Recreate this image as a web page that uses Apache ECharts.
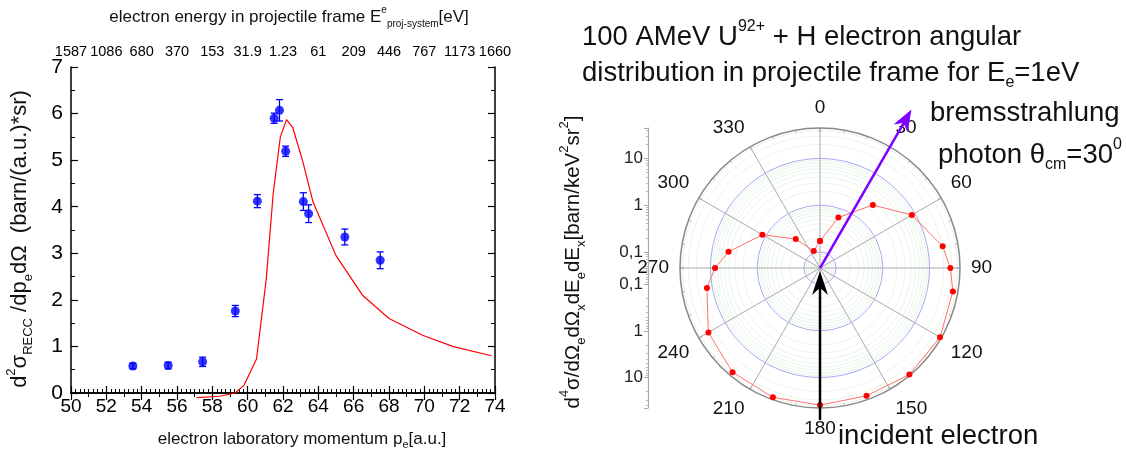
<!DOCTYPE html>
<html>
<head>
<meta charset="utf-8">
<script src="https://cdn.jsdelivr.net/npm/echarts@6.0.0/dist/echarts.min.js"></script>
<style>
  html, body { margin: 0; padding: 0; background: #fff; }
  #main { width: 1126px; height: 455px; }
</style>
</head>
<body>
<div id="main"></div>
<script>
// left panel: measured RECC cross section vs electron lab momentum
const pLab = [53.5, 55.5, 57.45, 59.3, 60.55, 61.5, 61.8, 62.15, 63.15, 63.45, 65.5, 67.5];
const sigma = [0.58, 0.59, 0.67, 1.76, 4.12, 5.9, 6.07, 5.19, 4.11, 3.85, 3.35, 2.85];
const sigmaErr = [0.06, 0.07, 0.1, 0.12, 0.14, 0.11, 0.23, 0.11, 0.19, 0.19, 0.17, 0.18];

// theory curve
const theoryP = [57.1, 58.4, 59.3, 59.8, 60.5, 61.05, 61.45, 61.85, 62.2, 62.55, 63.1, 63.7, 65.0, 66.5, 68.0, 69.9, 71.6, 73.8];
const theoryS = [-0.1, -0.07, 0, 0.17, 0.73, 2.44, 4.3, 5.5, 5.87, 5.7, 5.0, 4.1, 2.95, 2.1, 1.6, 1.24, 1.0, 0.8];

// top axis: electron energy in projectile frame, one per bottom major tick
const topLabels = ['1587', '1086', '680', '370', '153', '31.9', '1.23', '61', '209', '446', '767', '1173', '1660'];

// right panel: angular distribution (polar, log radius)
const angles = [0, 20, 40, 60, 80, 90, 100, 120, 140, 160, 180, 200, 220, 240, 260, 270, 280, 300, 320, 340];
const dist = [0.17, 0.64, 2.6, 8.4, 21, 28, 35, 42, 43, 37, 39, 40, 37, 26, 13, 8.0, 4.4, 1.2, 0.29, 0.11];
const photonAngle = 30;

const FONT = '"Liberation Sans", Arial, sans-serif';
const C = [820, 268];   // polar centre
const R = 140;          // polar radius

const chart = echarts.init(document.getElementById('main'));

function isDecade(v) {
  const l = Math.log10(v);
  return Math.abs(l - Math.round(l)) < 1e-6;
}
function decadeLabel(v) {
  if (!isDecade(v)) return '';
  return String(+v.toPrecision(3)).replace('.', ',');
}

function arrow(x1, y1, x2, y2, color, lw, hl, hw) {
  const len = Math.hypot(x2 - x1, y2 - y1);
  const dx = (x2 - x1) / len, dy = (y2 - y1) / len;
  const nx = -dy, ny = dx;
  const bx = x2 - dx * hl, by = y2 - dy * hl;
  const notchX = x2 - dx * hl * 0.7, notchY = y2 - dy * hl * 0.7;
  return [
    { type: 'line', z: 100, shape: { x1: x1, y1: y1, x2: notchX, y2: notchY },
      style: { stroke: color, lineWidth: lw } },
    { type: 'polygon', z: 100,
      shape: { points: [[x2, y2], [bx + nx * hw, by + ny * hw], [notchX, notchY], [bx - nx * hw, by - ny * hw]] },
      style: { fill: color } }
  ];
}

const rad = photonAngle * Math.PI / 180;
const purpleTip = [C[0] + 183 * Math.sin(rad), C[1] - 183 * Math.cos(rad)];

const richBig = {
  t: { fontSize: 27.5, fontFamily: FONT, fill: '#111', lineHeight: 36 },
  sup: { fontSize: 16, fontFamily: FONT, fill: '#111', lineHeight: 17, verticalAlign: 'top' },
  sub: { fontSize: 16, fontFamily: FONT, fill: '#111', lineHeight: 17, verticalAlign: 'bottom' }
};
const richPolarName = {
  t: { fontSize: 20.5, fontFamily: FONT, fill: '#111', lineHeight: 30 },
  sup: { fontSize: 13, fontFamily: FONT, fill: '#111', lineHeight: 13, verticalAlign: 'top' },
  sub: { fontSize: 13, fontFamily: FONT, fill: '#111', lineHeight: 13, verticalAlign: 'bottom' }
};

const axisBlack = { lineStyle: { color: '#000', width: 1.5 } };
const tickIn = { inside: true, length: 7, lineStyle: { color: '#000', width: 1.2 } };
const minorIn = (n) => ({ show: true, splitNumber: n, length: 4, lineStyle: { color: '#000', width: 1 } });

const option = {
  animation: false,
  backgroundColor: '#fff',
  textStyle: { fontFamily: FONT },
  grid: [
    { left: 71, right: 631, top: 60, bottom: 58 },
    { left: 648, top: 128, width: 1, height: 140 },
    { left: 648, top: 268, width: 1, height: 140 }
  ],
  xAxis: [
    {
      gridIndex: 0, type: 'value', position: 'bottom', min: 50, max: 74, interval: 2,
      axisLine: axisBlack, axisTick: tickIn, minorTick: minorIn(8), splitLine: { show: false },
      axisLabel: { fontSize: 19, color: '#000', margin: 4 },
      name: 'electron laboratory momentum {s|p}{sub|e}{s|[a.u.]}', nameLocation: 'middle', nameGap: 35,
      nameTextStyle: {
        padding: [0, 0, 0, 38],
        rich: {
          s: { fontSize: 17, color: '#111', lineHeight: 22 },
          sub: { fontSize: 11, color: '#111', lineHeight: 10, verticalAlign: 'bottom' }
        },
        fontSize: 17, color: '#111'
      }
    },
    {
      gridIndex: 0, type: 'value', position: 'top', min: 50, max: 74, interval: 2,
      axisLine: axisBlack, axisTick: tickIn, minorTick: minorIn(2), splitLine: { show: false },
      axisLabel: { fontSize: 14.5, color: '#000', margin: 8,
        formatter: (v) => topLabels[Math.round((v - 50) / 2)] || '' },
      name: '{s|electron energy in projectile frame E}{sup|e}{sub|proj-system}{s|[eV]}',
      nameLocation: 'middle', nameGap: 38,
      nameTextStyle: {
        padding: [0, 0, 0, 12],
        rich: {
          s: { fontSize: 17, color: '#111', lineHeight: 24 },
          sup: { fontSize: 10, color: '#111', lineHeight: 10, verticalAlign: 'top' },
          sub: { fontSize: 10, color: '#111', lineHeight: 10, verticalAlign: 'bottom' }
        }
      }
    },
    { gridIndex: 1, type: 'value', show: false },
    { gridIndex: 2, type: 'value', show: false }
  ],
  yAxis: [
    {
      gridIndex: 0, type: 'value', position: 'left', min: 0, max: 7, interval: 1,
      axisLine: axisBlack, axisTick: tickIn, minorTick: minorIn(2), splitLine: { show: false },
      axisLabel: { fontSize: 21, color: '#000', margin: 8 },
      name: '{s|d}{sup|2}{s|σ}{sub|RECC}{s| /dp}{sub|e}{s|dΩ  (barn/(a.u.)*sr)}',
      nameLocation: 'middle', nameRotate: 90, nameGap: 36,
      nameTextStyle: {
        padding: [0, 0, 0, -18],
        rich: {
          s: { fontSize: 22, color: '#111', lineHeight: 30 },
          sup: { fontSize: 13, color: '#111', lineHeight: 13, verticalAlign: 'top' },
          sub: { fontSize: 13, color: '#111', lineHeight: 13, verticalAlign: 'bottom' }
        }
      }
    },
    {
      gridIndex: 0, type: 'value', position: 'right', min: 0, max: 7, interval: 1,
      axisLine: axisBlack, axisTick: tickIn, minorTick: minorIn(2), splitLine: { show: false },
      axisLabel: { show: false }
    },
    {
      gridIndex: 1, type: 'log', logBase: 10, min: 0.045, max: 45, position: 'left',
      axisLine: { lineStyle: { color: '#aaa', width: 1.2 } },
      axisTick: { length: 4, lineStyle: { color: '#aaa' } },
      minorTick: { show: true, splitNumber: 9, length: 2, lineStyle: { color: '#bbb' } },
      splitLine: { show: false },
      axisLabel: { fontSize: 17, color: '#222', margin: 5, formatter: decadeLabel, showMinLabel: false, showMaxLabel: false }
    },
    {
      gridIndex: 2, type: 'log', logBase: 10, min: 0.045, max: 45, inverse: true, position: 'left',
      axisLine: { lineStyle: { color: '#aaa', width: 1.2 } },
      axisTick: { length: 4, lineStyle: { color: '#aaa' } },
      minorTick: { show: true, splitNumber: 9, length: 2, lineStyle: { color: '#bbb' } },
      splitLine: { show: false },
      axisLabel: { fontSize: 17, color: '#222', margin: 5, formatter: decadeLabel, showMinLabel: false, showMaxLabel: false }
    }
  ],
  polar: { center: C, radius: R },
  angleAxis: {
    type: 'value', min: 0, max: 360, interval: 30, startAngle: 90, clockwise: true,
    axisLine: { lineStyle: { color: '#888', width: 1.5 } },
    axisTick: { inside: true, length: 4, lineStyle: { color: '#999' } },
    minorTick: { show: true, splitNumber: 3, length: 3, lineStyle: { color: '#bbb' } },
    splitLine: { show: true, lineStyle: { color: '#aaa', width: 1 } },
    axisLabel: { fontSize: 19, color: '#111', margin: 11, formatter: (v) => (v >= 360 ? '' : String(v)) }
  },
  radiusAxis: {
    type: 'log', logBase: 10, min: 0.045, max: 45,
    axisLine: { show: false }, axisTick: { show: false }, axisLabel: { show: false },
    splitLine: { show: true, lineStyle: { color: ['rgba(0,0,0,0)', '#a8a8f0', '#a8a8f0', '#a8a8f0', 'rgba(0,0,0,0)'], width: 1 } },
    minorSplitLine: { show: true, lineStyle: { color: '#e2f3e2', width: 0.8 } },
    minorTick: { show: false, splitNumber: 9 }
  },
  series: [
    {
      type: 'line', xAxisIndex: 0, yAxisIndex: 0, clip: false,
      data: theoryP.map((p, i) => [p, theoryS[i]]),
      showSymbol: false, lineStyle: { color: '#ff0000', width: 1.2 }, z: 2
    },
    {
      type: 'custom', xAxisIndex: 0, yAxisIndex: 0,
      data: pLab.map((p, i) => [p, sigma[i], sigmaErr[i]]),
      encode: { x: 0, y: 1 },
      renderItem: function (params, api) {
        const x = api.value(0), y = api.value(1), e = api.value(2);
        const top = api.coord([x, y + e]);
        const bot = api.coord([x, y - e]);
        const w = 3.5;
        const st = { stroke: '#0000ff', lineWidth: 1.3 };
        return {
          type: 'group', children: [
            { type: 'line', shape: { x1: top[0], y1: top[1], x2: bot[0], y2: bot[1] }, style: st },
            { type: 'line', shape: { x1: top[0] - w, y1: top[1], x2: top[0] + w, y2: top[1] }, style: st },
            { type: 'line', shape: { x1: bot[0] - w, y1: bot[1], x2: bot[0] + w, y2: bot[1] }, style: st }
          ]
        };
      },
      z: 3
    },
    {
      type: 'scatter', xAxisIndex: 0, yAxisIndex: 0,
      data: pLab.map((p, i) => [p, sigma[i]]),
      symbol: 'circle', symbolSize: 9, itemStyle: { color: '#0000ff' }, z: 4
    },
    {
      type: 'line', coordinateSystem: 'polar',
      data: angles.map((a, i) => [dist[i], a]).concat([[dist[0], angles[0]]]),
      symbol: 'circle', symbolSize: 6, showAllSymbol: true,
      itemStyle: { color: '#ff0000' },
      lineStyle: { color: '#ff7070', width: 1 },
      z: 5
    }
  ],
  graphic: [
    {
      type: 'text', x: 582, y: 19,
      style: {
        text: '{t|100 AMeV U}{sup|92+}{t| + H electron angular}\n{t|distribution in projectile frame for E}{sub|e}{t|=1eV}',
        rich: richBig, align: 'left', verticalAlign: 'top'
      }
    },
    {
      type: 'text', x: 930, y: 113,
      style: { text: '{t|bremsstrahlung}', rich: richBig, align: 'left', verticalAlign: 'middle' }
    },
    {
      type: 'text', x: 938, y: 155,
      style: { text: '{t|photon θ}{sub|cm}{t|=30}{sup|0}', rich: richBig, align: 'left', verticalAlign: 'middle' }
    },
    {
      type: 'text', x: 838, y: 436,
      style: { text: '{t|incident electron}', rich: richBig, align: 'left', verticalAlign: 'middle' }
    },
    {
      type: 'text', x: 573, y: 262, rotation: Math.PI / 2,
      style: {
        text: '{t|d}{sup|4}{t|σ/dΩ}{sub|e}{t|dΩ}{sub|x}{t|dE}{sub|e}{t|dE}{sub|x}{t|[barn/keV}{sup|2}{t|sr}{sup|2}{t|]}',
        rich: richPolarName, align: 'center', verticalAlign: 'middle'
      }
    }
  ].concat(
    arrow(C[0], C[1], purpleTip[0], purpleTip[1], '#7f00ff', 2.5, 22, 8),
    arrow(C[0], 420, C[0], C[1] + 3, '#000000', 2.5, 24, 8)
  )
};

chart.setOption(option);
</script>
</body>
</html>
